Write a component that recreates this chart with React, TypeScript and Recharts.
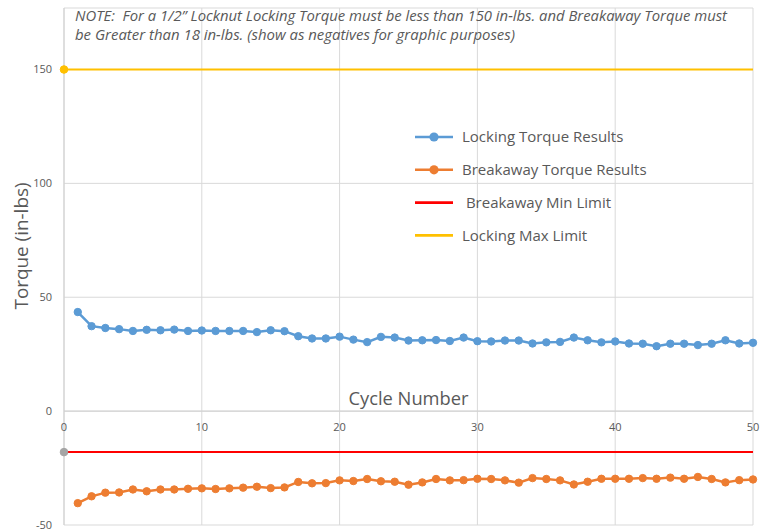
import React from "react";
import {
  LineChart,
  Line,
  XAxis,
  YAxis,
  CartesianGrid,
  ReferenceLine,
} from "recharts";

const cycles = [
  1, 2, 3, 4, 5, 6, 7, 8, 9, 10, 11, 12, 13, 14, 15, 16, 17, 18, 19, 20, 21, 22, 23, 24, 25,
  26, 27, 28, 29, 30, 31, 32, 33, 34, 35, 36, 37, 38, 39, 40, 41, 42, 43, 44, 45, 46, 47, 48,
  49, 50,
];

const lockingTorque = [
  43.5, 37.3, 36.5, 36.0, 35.2, 35.7, 35.5, 35.8, 35.2, 35.4,
  35.2, 35.2, 35.2, 34.7, 35.5, 35.1, 32.9, 31.9, 31.9, 32.7,
  31.4, 30.3, 32.6, 32.3, 31.0, 31.1, 31.2, 30.8, 32.3, 30.7,
  30.6, 31.0, 31.0, 29.7, 30.2, 30.4, 32.3, 31.1, 30.2, 30.6,
  29.7, 29.6, 28.5, 29.6, 29.6, 29.0, 29.6, 31.1, 29.7, 30.0,
];

const breakawayTorque = [
  -40.4, -37.4, -35.8, -35.7, -34.4, -35.2, -34.4, -34.4, -34.1, -33.9,
  -34.2, -33.9, -33.6, -33.2, -33.8, -33.5, -31.1, -31.7, -31.6, -30.4,
  -30.7, -29.8, -30.8, -31.0, -32.3, -31.3, -29.8, -30.4, -30.3, -29.7,
  -29.8, -30.4, -31.4, -29.4, -29.8, -30.4, -32.2, -31.0, -29.7, -29.7,
  -29.7, -29.4, -29.7, -29.2, -29.7, -28.9, -29.8, -31.3, -30.3, -30.0,
];

const lockingMaxLimit = 150;
const breakawayMinLimit = -18;
const limitSpan = [0, 50];

const xTicks = [0, 10, 20, 30, 40, 50];
const yTicks = [-50, 0, 50, 100, 150];

const noteLines = [
  "NOTE:  For a 1/2\u201D Locknut Locking Torque must be less than 150 in-lbs. and Breakaway Torque must",
  "be Greater than 18 in-lbs. (show as negatives for graphic purposes)",
];

const legendItems = [
  { label: "Locking Torque Results", color: "#5B9BD5", dot: true },
  { label: "Breakaway Torque Results", color: "#ED7D31", dot: true },
  { label: " Breakaway Min Limit", color: "#FF0000", dot: false },
  { label: "Locking Max Limit", color: "#FFC000", dot: false },
];

const resultsData = cycles.map((c, i) => ({
  cycle: c,
  locking: lockingTorque[i],
  breakaway: breakawayTorque[i],
}));
const maxLimitData = limitSpan.map((c) => ({ cycle: c, value: lockingMaxLimit }));
const minLimitData = limitSpan.map((c) => ({ cycle: c, value: breakawayMinLimit }));

const W = 762;
const H = 529;
const MARGIN = { top: 8, right: 9, left: 0, bottom: 0 };
const X_AXIS_H = 4;
const Y_MIN = -50;
const Y_MAX = 177;
const PLOT_H = H - MARGIN.top - MARGIN.bottom - X_AXIS_H;
const ZERO_Y = MARGIN.top + ((Y_MAX - 0) / (Y_MAX - Y_MIN)) * PLOT_H;

const TEXT = "#595959";
const FONT = "'Open Sans', sans-serif";

const XTick = (props: any) => {
  const { x, payload } = props;
  return (
    <text x={x} y={ZERO_Y + 20} textAnchor="middle" fill={TEXT} fontSize={11} fontFamily={FONT}>
      {payload.value}
    </text>
  );
};

const firstDot = (color: string) => (props: any) => {
  const { cx, cy, index } = props;
  if (index !== 0) return <g key={`d${index}`} />;
  return <circle key={`d${index}`} cx={cx} cy={cy} r={3.8} fill={color} stroke={color} />;
};

export default function App() {
  return (
    <div
      style={{
        position: "absolute",
        left: 0,
        top: 0,
        width: W,
        height: H,
        background: "#fff",
        overflow: "hidden",
      }}
    >
      <LineChart width={W} height={H} margin={MARGIN}>
        <CartesianGrid stroke="#D9D9D9" strokeWidth={1} />
        <XAxis
          type="number"
          dataKey="cycle"
          domain={[0, 50]}
          ticks={xTicks}
          height={X_AXIS_H}
          axisLine={false}
          tickLine={false}
          tick={<XTick />}
          interval={0}
        />
        <YAxis
          type="number"
          domain={[Y_MIN, Y_MAX]}
          ticks={yTicks}
          width={64}
          axisLine={{ stroke: "#D0D0D0" }}
          tickLine={false}
          tickSize={0}
          tickMargin={12}
          tick={{ fill: TEXT, fontSize: 11, fontFamily: FONT }}
          interval={0}
        />
        <ReferenceLine
          y={0}
          stroke="#D0D0D0"
          label={(p: any) => {
            const vb = p.viewBox;
            return (
              <text
                x={vb.x + vb.width / 2}
                y={vb.y - 6}
                textAnchor="middle"
                fill={TEXT}
                fontSize={19}
                fontFamily={FONT}
                textLength={120}
                lengthAdjust="spacingAndGlyphs"
              >
                Cycle Number
              </text>
            );
          }}
        />
        <Line
          data={maxLimitData}
          dataKey="value"
          stroke="#FFC000"
          strokeWidth={2}
          dot={firstDot("#FFC000")}
          isAnimationActive={false}
        />
        <Line
          data={minLimitData}
          dataKey="value"
          stroke="#FF0000"
          strokeWidth={2}
          dot={firstDot("#A5A5A5")}
          isAnimationActive={false}
        />
        <Line
          data={resultsData}
          dataKey="locking"
          stroke="#5B9BD5"
          strokeWidth={2.5}
          dot={{ r: 3.7, fill: "#5B9BD5", stroke: "#5B9BD5", strokeWidth: 1 }}
          isAnimationActive={false}
        />
        <Line
          data={resultsData}
          dataKey="breakaway"
          stroke="#ED7D31"
          strokeWidth={2.5}
          dot={{ r: 3.7, fill: "#ED7D31", stroke: "#ED7D31", strokeWidth: 1 }}
          isAnimationActive={false}
        />
      </LineChart>
      <svg
        width={W}
        height={H}
        style={{ position: "absolute", left: 0, top: 0, pointerEvents: "none" }}
      >
        <text
          x={75}
          y={21}
          fill={TEXT}
          fontSize={14.5}
          fontStyle="italic"
          fontFamily={FONT}
          textLength={652}
          lengthAdjust="spacingAndGlyphs"
          style={{ whiteSpace: "pre" }}
        >
          {noteLines[0]}
        </text>
        <text
          x={75}
          y={40}
          fill={TEXT}
          fontSize={14.5}
          fontStyle="italic"
          fontFamily={FONT}
          textLength={440}
          lengthAdjust="spacingAndGlyphs"
        >
          {noteLines[1]}
        </text>
        <text
          x={0}
          y={0}
          transform="translate(28,246) rotate(-90)"
          textAnchor="middle"
          fill={TEXT}
          fontSize={18}
          fontFamily={FONT}
          textLength={127}
          lengthAdjust="spacingAndGlyphs"
        >
          Torque (in-lbs)
        </text>
        <g transform="translate(410,125)">
          {legendItems.map((it, i) => {
            const y = 12 + i * 32.8;
            return (
              <g key={it.label}>
                <line x1={5} x2={43} y1={y} y2={y} stroke={it.color} strokeWidth={2.6} />
                {it.dot && <circle cx={24} cy={y} r={4.6} fill={it.color} />}
                <text
                  x={52}
                  y={y}
                  dy="0.35em"
                  fill={TEXT}
                  fontSize={15}
                  fontFamily={FONT}
                  style={{ whiteSpace: "pre" }}
                >
                  {it.label}
                </text>
              </g>
            );
          })}
        </g>
      </svg>
    </div>
  );
}
